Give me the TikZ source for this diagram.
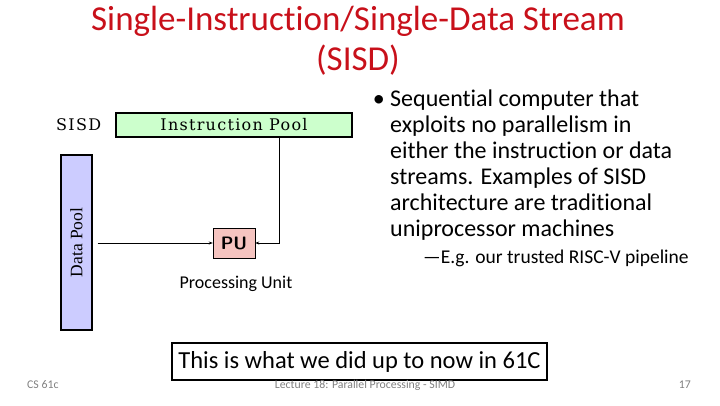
\documentclass[tikz,border=0pt]{standalone}
\usepackage{fontspec}
\setmainfont{Carlito}[Ligatures={NoCommon}]
\usepackage{xcolor}
\usepackage{tikz}
\usetikzlibrary{arrows.meta,positioning}
\definecolor{titlered}{RGB}{200,16,26}
\definecolor{poolgreen}{RGB}{204,255,204}
\definecolor{poolblue}{RGB}{204,204,255}
\definecolor{pupink}{RGB}{245,196,192}
\newfontfamily\diagfont{DejaVu Serif}[LetterSpace=8]
\newfontfamily\datafont{Liberation Serif}

\begin{document}
\begin{tikzpicture}[
  x=1pt, y=-1pt,
  font=\fontsize{24}{26}\selectfont,
  pool/.style={draw, line width=1.2pt, inner sep=0pt},
  diag/.style={font=\diagfont\fontsize{16}{16}\selectfont},
  arr/.style={-{Stealth[length=4pt,width=3pt]}, thick},
  foot/.style={font=\fontsize{11.8}{12}\selectfont, text=gray, inner sep=0pt}
]
\useasboundingbox (0,0) rectangle (720,405);
% title
\node[text=titlered, font=\fontsize{35}{40}\selectfont, align=center] (title) at (358,41)
  {Single-Instruction/Single-Data Stream\\(SISD)};
% diagram
\node[diag, anchor=west, inner sep=0pt] (sisd) at (56,125) {SISD};
\node[pool, fill=poolgreen, minimum width=236pt, minimum height=24pt, diag] (ipool) at (234,125) {Instruction Pool};
\node[pool, fill=poolblue, minimum width=31pt, minimum height=175pt] (dpool) at (76.5,242.5) {};
\node[font=\datafont\fontsize{17.5}{18}\selectfont, rotate=90] (dlabel) at (dpool) {Data Pool};
\node[draw, fill=pupink, minimum width=42pt, minimum height=30pt, inner sep=0pt,
  font=\sffamily\bfseries\fontsize{18}{18}\selectfont] (pu) at (234,243) {PU};
\node[font=\fontsize{18}{20}\selectfont] (pulabel) at (236,284) {Processing Unit};
\coordinate (bend) at (279,243);
\draw[arr] (dpool.east |- pu) ++(5,0) -- (pu.west);
\draw[arr] (ipool.south -| bend) -- (bend) -- (pu.east);
% bullets
\node[anchor=north west, align=left, inner sep=0pt] (bullet) at (390,90)
  {Sequential computer that\\exploits no parallelism in\\either the instruction or data\\streams. Examples of SISD\\architecture are traditional\\uniprocessor machines};
\node[anchor=east, inner sep=0pt] (dot) at ([xshift=-5pt, yshift=-11pt]bullet.north west) {\textbullet};
\node[anchor=north west, inner sep=0pt, font=\fontsize{19.5}{20}\selectfont] (sub) at (423,250)
  {\textemdash E.g. our trusted RISC-V pipeline};
% note box
\node[draw, line width=1.5pt, minimum width=375pt, minimum height=37pt,
  font=\fontsize{24.5}{26}\selectfont] (note) at (359.5,361.5)
  {This is what we did up to now in 61C};
% footer
\node[foot, anchor=west] (course) at (27,385) {CS 61c};
\node[foot] (lecture) at (365,385) {Lecture 18: Parallel Processing - SIMD};
\node[foot, anchor=east] (page) at (691,385) {17};
\end{tikzpicture}
\end{document}
